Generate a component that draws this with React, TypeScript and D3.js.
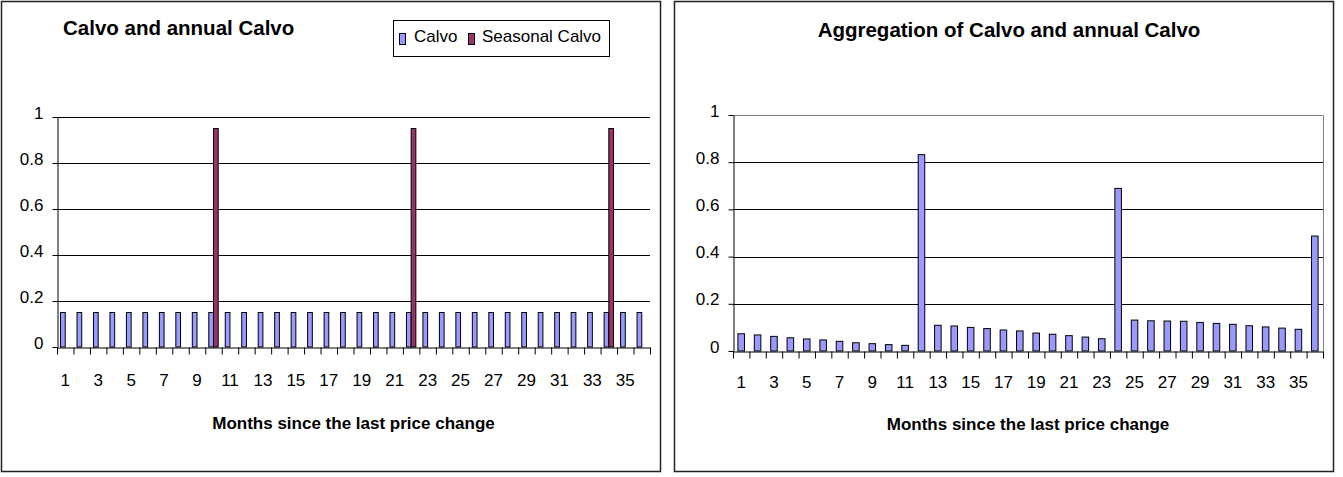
import { useEffect, useRef } from 'react';
import * as d3 from 'd3';

const MONTHS = [
  1, 2, 3, 4, 5, 6, 7, 8, 9, 10, 11, 12, 13, 14, 15, 16, 17, 18,
  19, 20, 21, 22, 23, 24, 25, 26, 27, 28, 29, 30, 31, 32, 33, 34, 35, 36,
];

const CALVO = [
  0.15, 0.15, 0.15, 0.15, 0.15, 0.15, 0.15, 0.15, 0.15, 0.15, 0.15, 0.15,
  0.15, 0.15, 0.15, 0.15, 0.15, 0.15, 0.15, 0.15, 0.15, 0.15, 0.15, 0.15,
  0.15, 0.15, 0.15, 0.15, 0.15, 0.15, 0.15, 0.15, 0.15, 0.15, 0.15, 0.15,
];

const SEASONAL_CALVO = [
  0, 0, 0, 0, 0, 0, 0, 0, 0, 0.95, 0, 0,
  0, 0, 0, 0, 0, 0, 0, 0, 0, 0.95, 0, 0,
  0, 0, 0, 0, 0, 0, 0, 0, 0, 0.95, 0, 0,
];

const AGGREGATE = [
  0.073, 0.068, 0.062, 0.056, 0.051, 0.047, 0.041, 0.035, 0.031, 0.027, 0.024, 0.832,
  0.109, 0.106, 0.1, 0.095, 0.089, 0.085, 0.076, 0.071, 0.065, 0.059, 0.052, 0.689,
  0.131, 0.128, 0.127, 0.126, 0.121, 0.117, 0.113, 0.107, 0.102, 0.097, 0.092, 0.487,
];

const Y_TICKS = [0, 0.2, 0.4, 0.6, 0.8, 1];
const X_LABELS = [1, 3, 5, 7, 9, 11, 13, 15, 17, 19, 21, 23, 25, 27, 29, 31, 33, 35];

const CALVO_COLOR = '#9999ff';
const SEASONAL_COLOR = '#993366';
const FONT = '"Liberation Sans", Arial, sans-serif';

interface Series {
  name: string;
  values: number[];
  color: string;
}

interface PanelOpts {
  left: number;
  right: number;
  top: number;
  bottom: number;
  series: Series[];
  gridColor: string;
  plotBorder: boolean;
  labelBaseline: number;
  titleBaseline: number;
}

function drawPanel(svg: d3.Selection<SVGSVGElement, unknown, null, undefined>, o: PanelOpts) {
  const g = svg.append('g');
  const x = d3.scaleBand<number>().domain(MONTHS).range([o.left, o.right]).padding(0);
  const xb = d3.scaleLinear().domain([0, MONTHS.length]).range([o.left, o.right]);
  const y = d3.scaleLinear().domain([0, 1]).range([o.bottom, o.top]);
  const inner = d3
    .scaleBand<string>()
    .domain(o.series.map((s) => s.name))
    .range([0, x.bandwidth()])
    .paddingInner(0)
    .paddingOuter(0.75);

  // gridlines
  g.selectAll('line.grid')
    .data(Y_TICKS.filter((t) => t > 0))
    .join('line')
    .attr('x1', o.left)
    .attr('x2', o.right)
    .attr('y1', (d) => Math.round(y(d)) + 0.5)
    .attr('y2', (d) => Math.round(y(d)) + 0.5)
    .attr('stroke', (d) => (o.plotBorder && d === 1 ? '#808080' : o.gridColor))
    .attr('stroke-width', 1);

  if (o.plotBorder) {
    g.append('line')
      .attr('x1', o.right + 0.5)
      .attr('x2', o.right + 0.5)
      .attr('y1', Math.round(y(1)) + 0.5)
      .attr('y2', y(0))
      .attr('stroke', '#808080');
  }

  // bars
  for (const s of o.series) {
    g.append('g')
      .selectAll('rect')
      .data(s.values.map((v, i) => ({ v, m: MONTHS[i] })).filter((d) => d.v > 0))
      .join('rect')
      .attr('x', (d) => (x(d.m) ?? 0) + (inner(s.name) ?? 0))
      .attr('y', (d) => y(d.v))
      .attr('width', inner.bandwidth())
      .attr('height', (d) => y(0) - y(d.v))
      .attr('fill', s.color)
      .attr('stroke', '#000')
      .attr('stroke-width', 1);
  }

  // y axis
  const yAxis = g
    .append('g')
    .attr('transform', `translate(${Math.round(o.left) + 0.5},0)`)
    .call(
      d3
        .axisLeft(y)
        .tickValues(Y_TICKS)
        .tickSize(5)
        .tickSizeOuter(0)
        .tickPadding(9)
        .tickFormat(d3.format('~g') as any),
    );
  yAxis.attr('font-family', null).attr('font-size', null);
  yAxis.select('.domain').attr('stroke', '#000');
  yAxis.selectAll('line').attr('stroke', '#000');
  yAxis
    .selectAll('text')
    .attr('dy', null)
    .attr('y', 1)
    .attr('font-size', 17)
    .attr('fill', '#000');

  // x axis line + boundary ticks
  const xAxis = g
    .append('g')
    .attr('transform', `translate(0,${Math.round(o.bottom) + 0.5})`)
    .call(
      d3
        .axisBottom(xb)
        .tickValues(d3.range(0, MONTHS.length + 1))
        .tickSize(7)
        .tickSizeOuter(0)
        .tickFormat(() => ''),
    );
  xAxis.attr('font-family', null).attr('font-size', null);
  xAxis.select('.domain').attr('stroke', '#000');
  xAxis.selectAll('line').attr('stroke', '#000');

  // x labels
  const xLab = g
    .append('g')
    .attr('transform', `translate(0,${o.labelBaseline})`)
    .call(d3.axisBottom(x).tickValues(X_LABELS).tickSize(0).tickPadding(0));
  xLab.attr('font-family', null).attr('font-size', null);
  xLab.select('.domain').remove();
  xLab.selectAll('text').attr('dy', null).attr('y', 0).attr('font-size', 17).attr('fill', '#000');

  // axis title
  g.append('text')
    .attr('x', (o.left + o.right) / 2)
    .attr('y', o.titleBaseline)
    .attr('text-anchor', 'middle')
    .attr('font-size', 17)
    .attr('font-weight', 'bold')
    .text('Months since the last price change');
}

export default function App() {
  const svgRef = useRef<SVGSVGElement>(null);

  useEffect(() => {
    if (!svgRef.current) return;
    const svg = d3.select(svgRef.current);
    svg.selectAll('*').remove();

    // chart frames
    svg.append('rect')
      .attr('x', 1.5).attr('y', 1.5).attr('width', 659).attr('height', 470)
      .attr('fill', '#fff').attr('stroke', '#222').attr('stroke-width', 1.5);
    svg.append('rect')
      .attr('x', 674.5).attr('y', 1.5).attr('width', 659).attr('height', 470)
      .attr('fill', '#fff').attr('stroke', '#222').attr('stroke-width', 1.5);

    drawPanel(svg, {
      left: 57,
      right: 650,
      top: 117,
      bottom: 347,
      series: [
        { name: 'Calvo', values: CALVO, color: CALVO_COLOR },
        { name: 'Seasonal Calvo', values: SEASONAL_CALVO, color: SEASONAL_COLOR },
      ],
      gridColor: '#000',
      plotBorder: false,
      labelBaseline: 386,
      titleBaseline: 429,
    });

    drawPanel(svg, {
      left: 733,
      right: 1323,
      top: 115,
      bottom: 351,
      series: [{ name: 'Aggregate', values: AGGREGATE, color: CALVO_COLOR }],
      gridColor: '#000',
      plotBorder: true,
      labelBaseline: 388,
      titleBaseline: 430,
    });

    // titles
    svg.append('text')
      .attr('x', 63).attr('y', 35)
      .attr('font-size', 20.5).attr('font-weight', 'bold')
      .text('Calvo and annual Calvo');
    svg.append('text')
      .attr('x', 1009).attr('y', 36.5).attr('text-anchor', 'middle')
      .attr('font-size', 20.5).attr('font-weight', 'bold')
      .text('Aggregation of Calvo and annual Calvo');

    // legend
    const legend = svg.append('g');
    legend.append('rect')
      .attr('x', 393.5).attr('y', 20.5).attr('width', 216).attr('height', 36)
      .attr('fill', '#fff').attr('stroke', '#000');
    const items = [
      { name: 'Calvo', color: CALVO_COLOR, mx: 399, tx: 414 },
      { name: 'Seasonal Calvo', color: SEASONAL_COLOR, mx: 468, tx: 482 },
    ];
    for (const it of items) {
      legend.append('rect')
        .attr('x', it.mx + 0.5).attr('y', 33.5).attr('width', 6).attr('height', 11)
        .attr('fill', it.color).attr('stroke', '#000');
      legend.append('text')
        .attr('x', it.tx).attr('y', 42)
        .attr('font-size', 17)
        .text(it.name);
    }
  }, []);

  return (
    <svg
      ref={svgRef}
      width={1343}
      height={477}
      style={{ position: 'absolute', left: 0, top: 0, fontFamily: FONT, background: '#fff' }}
    />
  );
}
